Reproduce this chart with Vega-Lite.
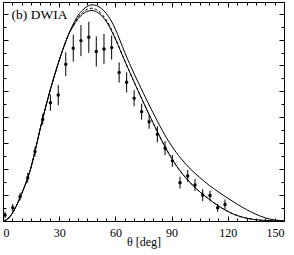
{
  "$schema": "https://vega.github.io/schema/vega-lite/v6.json",
  "width": 281,
  "height": 219,
  "autosize": "none",
  "padding": {"left": 3, "top": 2, "right": 10, "bottom": 34},
  "background": "white",
  "config": {
    "view": {"stroke": "black", "strokeWidth": 1},
    "axis": {"domain": false, "grid": false, "tickColor": "black", "tickWidth": 1, "labelFont": "Liberation Serif", "labelFontSize": 12, "labelColor": "black", "titleFont": "Liberation Serif", "titleFontSize": 12, "titleFontWeight": "normal", "titleColor": "black"}
  },
  "datasets": {
    "curves": [
      {"t": 0, "v": 0, "c": "outer"}, {"t": 2.5, "v": 0.08, "c": "outer"}, {"t": 5, "v": 0.3, "c": "outer"}, {"t": 7.5, "v": 0.64, "c": "outer"}, {"t": 10, "v": 1.06, "c": "outer"}, {"t": 12.5, "v": 1.52, "c": "outer"}, {"t": 15, "v": 2.08, "c": "outer"}, {"t": 17.5, "v": 2.82, "c": "outer"}, {"t": 20, "v": 3.6, "c": "outer"}, {"t": 22.5, "v": 4.32, "c": "outer"}, {"t": 25, "v": 5.0, "c": "outer"}, {"t": 27.5, "v": 5.62, "c": "outer"}, {"t": 30, "v": 6.2, "c": "outer"}, {"t": 32.5, "v": 6.73, "c": "outer"}, {"t": 35, "v": 7.2, "c": "outer"}, {"t": 37.5, "v": 7.6, "c": "outer"}, {"t": 40, "v": 7.93, "c": "outer"}, {"t": 42.5, "v": 8.14, "c": "outer"}, {"t": 45, "v": 8.28, "c": "outer"}, {"t": 47.5, "v": 8.34, "c": "outer"}, {"t": 50, "v": 8.31, "c": "outer"}, {"t": 52.5, "v": 8.2, "c": "outer"}, {"t": 55, "v": 8.02, "c": "outer"}, {"t": 57.5, "v": 7.76, "c": "outer"}, {"t": 60, "v": 7.4, "c": "outer"}, {"t": 62.5, "v": 6.96, "c": "outer"}, {"t": 65, "v": 6.5, "c": "outer"}, {"t": 67.5, "v": 6.08, "c": "outer"}, {"t": 70, "v": 5.68, "c": "outer"}, {"t": 72.5, "v": 5.3, "c": "outer"}, {"t": 75, "v": 4.92, "c": "outer"}, {"t": 77.5, "v": 4.55, "c": "outer"}, {"t": 80, "v": 4.19, "c": "outer"}, {"t": 82.5, "v": 3.84, "c": "outer"}, {"t": 85, "v": 3.5, "c": "outer"}, {"t": 87.5, "v": 3.18, "c": "outer"}, {"t": 90, "v": 2.9, "c": "outer"}, {"t": 92.5, "v": 2.64, "c": "outer"}, {"t": 95, "v": 2.41, "c": "outer"}, {"t": 97.5, "v": 2.2, "c": "outer"}, {"t": 100, "v": 2.01, "c": "outer"}, {"t": 105, "v": 1.68, "c": "outer"}, {"t": 110, "v": 1.38, "c": "outer"}, {"t": 115, "v": 1.12, "c": "outer"}, {"t": 120, "v": 0.88, "c": "outer"}, {"t": 125, "v": 0.65, "c": "outer"}, {"t": 130, "v": 0.44, "c": "outer"}, {"t": 135, "v": 0.26, "c": "outer"}, {"t": 140, "v": 0.12, "c": "outer"}, {"t": 145, "v": 0.04, "c": "outer"}, {"t": 150, "v": 0.005, "c": "outer"},
      {"t": 0, "v": 0, "c": "inner"}, {"t": 2.5, "v": 0.08, "c": "inner"}, {"t": 5, "v": 0.3, "c": "inner"}, {"t": 7.5, "v": 0.64, "c": "inner"}, {"t": 10, "v": 1.06, "c": "inner"}, {"t": 12.5, "v": 1.52, "c": "inner"}, {"t": 15, "v": 2.08, "c": "inner"}, {"t": 17.5, "v": 2.82, "c": "inner"}, {"t": 20, "v": 3.6, "c": "inner"}, {"t": 22.5, "v": 4.32, "c": "inner"}, {"t": 25, "v": 5.0, "c": "inner"}, {"t": 27.5, "v": 5.62, "c": "inner"}, {"t": 30, "v": 6.2, "c": "inner"}, {"t": 32.5, "v": 6.73, "c": "inner"}, {"t": 35, "v": 7.2, "c": "inner"}, {"t": 37.5, "v": 7.52, "c": "inner"}, {"t": 40, "v": 7.8, "c": "inner"}, {"t": 42.5, "v": 7.98, "c": "inner"}, {"t": 45, "v": 8.09, "c": "inner"}, {"t": 47.5, "v": 8.12, "c": "inner"}, {"t": 50, "v": 8.07, "c": "inner"}, {"t": 52.5, "v": 7.93, "c": "inner"}, {"t": 55, "v": 7.71, "c": "inner"}, {"t": 57.5, "v": 7.4, "c": "inner"}, {"t": 60, "v": 7.02, "c": "inner"}, {"t": 62.5, "v": 6.6, "c": "inner"}, {"t": 65, "v": 6.18, "c": "inner"}, {"t": 67.5, "v": 5.77, "c": "inner"}, {"t": 70, "v": 5.36, "c": "inner"}, {"t": 72.5, "v": 4.96, "c": "inner"}, {"t": 75, "v": 4.57, "c": "inner"}, {"t": 77.5, "v": 4.18, "c": "inner"}, {"t": 80, "v": 3.8, "c": "inner"}, {"t": 82.5, "v": 3.43, "c": "inner"}, {"t": 85, "v": 3.07, "c": "inner"}, {"t": 87.5, "v": 2.73, "c": "inner"}, {"t": 90, "v": 2.42, "c": "inner"}, {"t": 92.5, "v": 2.14, "c": "inner"}, {"t": 95, "v": 1.89, "c": "inner"}, {"t": 97.5, "v": 1.67, "c": "inner"}, {"t": 100, "v": 1.47, "c": "inner"}, {"t": 105, "v": 1.13, "c": "inner"}, {"t": 110, "v": 0.84, "c": "inner"}, {"t": 115, "v": 0.58, "c": "inner"}, {"t": 120, "v": 0.37, "c": "inner"}, {"t": 125, "v": 0.21, "c": "inner"}, {"t": 130, "v": 0.11, "c": "inner"}, {"t": 135, "v": 0.05, "c": "inner"}, {"t": 140, "v": 0.02, "c": "inner"}, {"t": 145, "v": 0.005, "c": "inner"}, {"t": 150, "v": 0, "c": "inner"},
      {"t": 0, "v": 0, "c": "dashed"}, {"t": 2.5, "v": 0.08, "c": "dashed"}, {"t": 5, "v": 0.3, "c": "dashed"}, {"t": 7.5, "v": 0.64, "c": "dashed"}, {"t": 10, "v": 1.06, "c": "dashed"}, {"t": 12.5, "v": 1.52, "c": "dashed"}, {"t": 15, "v": 2.08, "c": "dashed"}, {"t": 17.5, "v": 2.82, "c": "dashed"}, {"t": 20, "v": 3.6, "c": "dashed"}, {"t": 22.5, "v": 4.32, "c": "dashed"}, {"t": 25, "v": 5.0, "c": "dashed"}, {"t": 27.5, "v": 5.62, "c": "dashed"}, {"t": 30, "v": 6.2, "c": "dashed"}, {"t": 32.5, "v": 6.73, "c": "dashed"}, {"t": 35, "v": 7.2, "c": "dashed"}, {"t": 37.5, "v": 7.55, "c": "dashed"}, {"t": 40, "v": 7.85, "c": "dashed"}, {"t": 42.5, "v": 8.05, "c": "dashed"}, {"t": 45, "v": 8.17, "c": "dashed"}, {"t": 47.5, "v": 8.21, "c": "dashed"}, {"t": 50, "v": 8.15, "c": "dashed"}, {"t": 52.5, "v": 8.0, "c": "dashed"}, {"t": 55, "v": 7.77, "c": "dashed"}, {"t": 57.5, "v": 7.45, "c": "dashed"}, {"t": 60, "v": 7.05, "c": "dashed"}, {"t": 62.5, "v": 6.62, "c": "dashed"}, {"t": 65, "v": 6.18, "c": "dashed"}, {"t": 67.5, "v": 5.77, "c": "dashed"}, {"t": 70, "v": 5.36, "c": "dashed"}, {"t": 72.5, "v": 4.96, "c": "dashed"}, {"t": 75, "v": 4.57, "c": "dashed"}, {"t": 77.5, "v": 4.18, "c": "dashed"}, {"t": 80, "v": 3.8, "c": "dashed"}, {"t": 82.5, "v": 3.43, "c": "dashed"}, {"t": 85, "v": 3.07, "c": "dashed"}, {"t": 87.5, "v": 2.73, "c": "dashed"}, {"t": 90, "v": 2.42, "c": "dashed"}, {"t": 92.5, "v": 2.14, "c": "dashed"}, {"t": 95, "v": 1.89, "c": "dashed"}, {"t": 97.5, "v": 1.67, "c": "dashed"}, {"t": 100, "v": 1.47, "c": "dashed"}, {"t": 105, "v": 1.13, "c": "dashed"}, {"t": 110, "v": 0.84, "c": "dashed"}, {"t": 115, "v": 0.58, "c": "dashed"}, {"t": 120, "v": 0.37, "c": "dashed"}, {"t": 125, "v": 0.21, "c": "dashed"}, {"t": 130, "v": 0.11, "c": "dashed"}, {"t": 135, "v": 0.05, "c": "dashed"}, {"t": 140, "v": 0.02, "c": "dashed"}, {"t": 145, "v": 0.005, "c": "dashed"}, {"t": 150, "v": 0, "c": "dashed"}
    ],
    "pts": [
      {"t": 1.1, "v": 0.23, "lo": 0.11, "hi": 0.35},
      {"t": 5.2, "v": 0.51, "lo": 0.36, "hi": 0.66},
      {"t": 9.1, "v": 0.94, "lo": 0.79, "hi": 1.09},
      {"t": 13.2, "v": 1.67, "lo": 1.48, "hi": 1.86},
      {"t": 17.1, "v": 2.68, "lo": 2.49, "hi": 2.87},
      {"t": 21.2, "v": 3.92, "lo": 3.71, "hi": 4.13},
      {"t": 25.3, "v": 4.56, "lo": 4.25, "hi": 4.87},
      {"t": 29.5, "v": 4.86, "lo": 4.47, "hi": 5.25},
      {"t": 33.5, "v": 6.05, "lo": 5.59, "hi": 6.51},
      {"t": 37.5, "v": 6.67, "lo": 6.15, "hi": 7.19},
      {"t": 41.6, "v": 6.96, "lo": 6.36, "hi": 7.56},
      {"t": 45.8, "v": 7.09, "lo": 6.49, "hi": 7.69},
      {"t": 49.8, "v": 6.54, "lo": 5.96, "hi": 7.12},
      {"t": 53.9, "v": 6.64, "lo": 6.06, "hi": 7.22},
      {"t": 58.0, "v": 6.69, "lo": 6.23, "hi": 7.15},
      {"t": 62.0, "v": 5.73, "lo": 5.34, "hi": 6.12},
      {"t": 66.0, "v": 5.35, "lo": 4.96, "hi": 5.74},
      {"t": 70.0, "v": 4.74, "lo": 4.43, "hi": 5.05},
      {"t": 74.0, "v": 4.22, "lo": 3.91, "hi": 4.53},
      {"t": 78.0, "v": 3.83, "lo": 3.56, "hi": 4.10},
      {"t": 82.4, "v": 3.35, "lo": 3.04, "hi": 3.66},
      {"t": 86.5, "v": 2.81, "lo": 2.54, "hi": 3.08},
      {"t": 90.4, "v": 2.32, "lo": 2.09, "hi": 2.55},
      {"t": 94.5, "v": 1.48, "lo": 1.25, "hi": 1.71},
      {"t": 98.6, "v": 1.74, "lo": 1.51, "hi": 1.97},
      {"t": 102.5, "v": 1.39, "lo": 1.16, "hi": 1.62},
      {"t": 106.6, "v": 1.0, "lo": 0.77, "hi": 1.23},
      {"t": 110.5, "v": 0.98, "lo": 0.79, "hi": 1.17},
      {"t": 114.6, "v": 0.51, "lo": 0.36, "hi": 0.66},
      {"t": 118.5, "v": 0.64, "lo": 0.45, "hi": 0.83}
    ]
  },
  "layer": [
    {
      "data": {"name": "curves"},
      "transform": [{"filter": "datum.c !== 'dashed'"}],
      "mark": {"type": "line", "color": "black", "strokeWidth": 1, "interpolate": "monotone"},
      "encoding": {
        "x": {"field": "t", "type": "quantitative", "scale": {"domain": [0, 150], "nice": false, "zero": false},
              "axis": {"orient": "bottom", "values": [0, 30, 60, 90, 120, 150], "tickSize": -5, "labelPadding": 11.5, "title": "θ [deg]", "titlePadding": -2}},
        "y": {"field": "v", "type": "quantitative", "scale": {"domain": [0, 8.45], "nice": false, "zero": false},
              "axis": {"orient": "left", "values": [0, 1, 2, 3, 4, 5, 6, 7, 8], "tickSize": -5, "labels": false, "title": null}},
        "detail": {"field": "c"}
      }
    },
    {
      "data": {"name": "curves"},
      "transform": [{"filter": "datum.c === 'dashed'"}],
      "mark": {"type": "line", "color": "black", "strokeWidth": 1, "strokeDash": [3, 2], "interpolate": "monotone"},
      "encoding": {
        "x": {"field": "t", "type": "quantitative", "scale": {"domain": [0, 150], "nice": false, "zero": false},
              "axis": {"orient": "top", "values": [0, 30, 60, 90, 120, 150], "tickSize": -5, "labels": false, "title": null}},
        "y": {"field": "v", "type": "quantitative", "scale": {"domain": [0, 8.45], "nice": false, "zero": false},
              "axis": {"orient": "right", "values": [0, 1, 2, 3, 4, 5, 6, 7, 8], "tickSize": -5, "labels": false, "title": null}}
      }
    },
    {
      "data": {"name": "pts"},
      "mark": {"type": "rule", "color": "black", "strokeWidth": 1},
      "encoding": {
        "x": {"field": "t", "type": "quantitative", "scale": {"domain": [0, 150], "nice": false, "zero": false},
              "axis": {"orient": "bottom", "values": [5, 10, 15, 20, 25, 35, 40, 45, 50, 55, 65, 70, 75, 80, 85, 95, 100, 105, 110, 115, 125, 130, 135, 140, 145], "tickSize": -3, "labels": false, "title": null}},
        "y": {"field": "lo", "type": "quantitative", "scale": {"domain": [0, 8.45], "nice": false, "zero": false},
              "axis": {"orient": "left", "values": [0.5, 1.5, 2.5, 3.5, 4.5, 5.5, 6.5, 7.5], "tickSize": -3, "labels": false, "title": null}},
        "y2": {"field": "hi"}
      }
    },
    {
      "data": {"name": "pts"},
      "mark": {"type": "point", "shape": "circle", "filled": true, "color": "black", "size": 12, "opacity": 1},
      "encoding": {
        "x": {"field": "t", "type": "quantitative", "scale": {"domain": [0, 150], "nice": false, "zero": false},
              "axis": {"orient": "top", "values": [5, 10, 15, 20, 25, 35, 40, 45, 50, 55, 65, 70, 75, 80, 85, 95, 100, 105, 110, 115, 125, 130, 135, 140, 145], "tickSize": -3, "labels": false, "title": null}},
        "y": {"field": "v", "type": "quantitative", "scale": {"domain": [0, 8.45], "nice": false, "zero": false},
              "axis": {"orient": "right", "values": [0.5, 1.5, 2.5, 3.5, 4.5, 5.5, 6.5, 7.5], "tickSize": -3, "labels": false, "title": null}}
      }
    },
    {
      "data": {"values": [{"label": "(b) DWIA"}]},
      "mark": {"type": "text", "align": "left", "baseline": "alphabetic", "font": "Liberation Serif", "fontSize": 13.5, "fontWeight": "normal", "color": "black"},
      "encoding": {
        "x": {"datum": 4.6, "type": "quantitative", "axis": null, "scale": {"domain": [0, 150], "nice": false, "zero": false}},
        "y": {"datum": 7.78, "type": "quantitative", "axis": null, "scale": {"domain": [0, 8.45], "nice": false, "zero": false}},
        "text": {"field": "label"}
      }
    }
  ],
  "resolve": {"axis": {"x": "independent", "y": "independent"}}
}
